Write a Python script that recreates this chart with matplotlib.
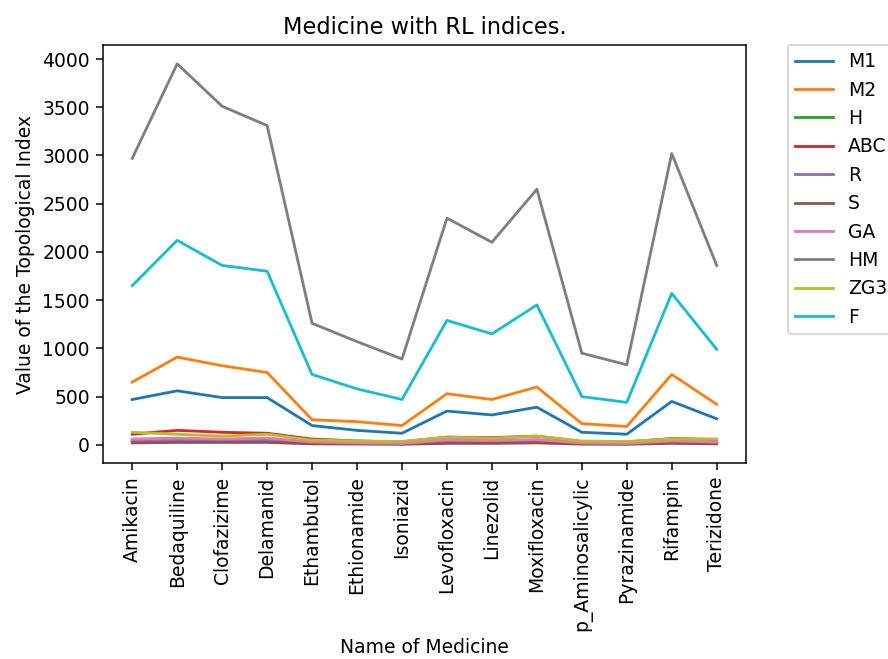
import matplotlib
matplotlib.use("Agg")
import matplotlib.pyplot as plt

medicines = ["Amikacin", "Bedaquiline", "Clofazizime", "Delamanid", "Ethambutol",
             "Ethionamide", "Isoniazid", "Levofloxacin", "Linezolid", "Moxifloxacin",
             "p_Aminosalicylic", "Pyrazinamide", "Rifampin", "Terizidone"]

M1 = [470, 560, 490, 490, 200, 150, 120, 350, 310, 390, 130, 110, 450, 270]
M2 = [650, 910, 820, 750, 260, 240, 200, 530, 470, 600, 220, 190, 730, 420]
H = [45, 50, 45, 50, 20, 15, 12, 35, 30, 40, 15, 12, 30, 22]
ABC = [110, 150, 130, 120, 60, 40, 30, 80, 75, 90, 35, 30, 65, 55]
R = [35, 40, 35, 40, 15, 12, 10, 28, 25, 32, 12, 10, 25, 18]
S = [20, 25, 25, 25, 10, 8, 6, 15, 15, 20, 7, 6, 15, 10]
GA = [60, 70, 60, 70, 30, 20, 15, 50, 45, 55, 20, 15, 40, 30]
HM = [2970, 3950, 3510, 3310, 1260, 1070, 890, 2350, 2100, 2650, 950, 830, 3020, 1860]
ZG3 = [130, 110, 90, 110, 50, 40, 35, 80, 70, 90, 40, 35, 60, 60]
F = [1650, 2120, 1860, 1800, 730, 580, 470, 1290, 1150, 1450, 500, 440, 1570, 990]

series = [("M1", M1), ("M2", M2), ("H", H), ("ABC", ABC), ("R", R), ("S", S),
          ("GA", GA), ("HM", HM), ("ZG3", ZG3), ("F", F)]

DPI = 135
fig, ax = plt.subplots(figsize=(888 / DPI, 659 / DPI), dpi=DPI)
fig.subplots_adjust(left=0.116, right=0.840, top=0.932, bottom=0.297)

for name, vals in series:
    ax.plot(medicines, vals, label=name)

ax.set_title("Medicine with RL indices.")
ax.set_xlabel("Name of Medicine")
ax.set_ylabel("Value of the Topological Index")
ax.set_yticks(range(0, 4001, 500))
plt.setp(ax.get_xticklabels(), rotation=90)
ax.legend(bbox_to_anchor=(1.065, 1.0), loc="upper left", borderaxespad=0)

fig.savefig("out.png", dpi=DPI)
